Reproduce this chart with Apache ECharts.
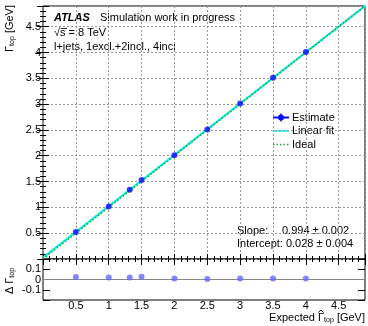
<!DOCTYPE html>
<html><head><meta charset="utf-8">
<script src="https://cdn.jsdelivr.net/npm/echarts@6/dist/echarts.min.js"></script>
<style>html,body{margin:0;padding:0;background:#fff}#c{width:368px;height:326px}</style>
</head><body><div id="c"></div>
<script>
// ---- data ----
const expected = [0.5, 1, 1.32, 1.5, 2, 2.5, 3, 3.5, 4];
const estimate = [0.524, 1.019, 1.339, 1.528, 2.010, 2.506, 3.010, 3.510, 4.010];
const residual = [0.024, 0.019, 0.019, 0.028, 0.010, 0.006, 0.010, 0.010, 0.010];
const fitX = [0, 4.9];
const fitY = [0.028, 4.899];
const idealX = [0, 4.9];
const idealY = [0, 4.9];
const zeroX = [0, 4.9];
const zeroY = [0, 0];
const xTickLabels = ['0.5','1','1.5','2','2.5','3','3.5','4','4.5'];
const yTickLabels = ['0.5','1','1.5','2','2.5','3','3.5','4','4.5'];
const rTickLabels = ['-0.1','0','0.1'];

const F = 'Liberation Sans';
const pairs = (a, b) => a.map((v, i) => [v, b[i]]);
const fmt = (labels) => (v) => {
  const s = String(Math.round(v * 1000) / 1000);
  return labels.includes(s) ? s : '';
};

function ax(grid, pos, min, max, interval, tickLen, extra) {
  return Object.assign({
    type: 'value', gridIndex: grid, position: pos, min: min, max: max, interval: interval,
    axisLine: { show: false },
    axisTick: { show: tickLen > 0, inside: true, length: tickLen, lineStyle: { color: '#000', width: 1 } },
    axisLabel: { show: false },
    splitLine: { show: false },
    minorTick: { show: false }
  }, extra || {});
}
const grid = { color: '#999', type: [2, 2], width: 1 };

const xAxis = [
  ax(0, 'bottom', 0, 4.9, 0.5, 5, { splitLine: { show: true, lineStyle: grid } }),
  ax(0, 'bottom', 0, 4.9, 0.1, 3),
  ax(0, 'top', 0, 4.9, 0.5, 6),
  ax(0, 'top', 0, 4.9, 0.1, 3),
  ax(1, 'bottom', 0, 4.9, 0.5, 0, { axisLabel: { show: true, formatter: fmt(xTickLabels), color: '#000', fontFamily: F, fontSize: 11, margin: 0, showMinLabel: false, showMaxLabel: false } })
];
const yAxis = [
  ax(0, 'left', 0, 4.9, 0.5, 6, { splitLine: { show: true, lineStyle: grid }, axisLabel: { show: true, formatter: fmt(yTickLabels), color: '#000', fontFamily: F, fontSize: 11, margin: 2 } }),
  ax(0, 'left', 0, 4.9, 0.1, 3),
  ax(0, 'right', 0, 4.9, 0.5, 6),
  ax(0, 'right', 0, 4.9, 0.1, 3),
  ax(1, 'left', -0.2, 0.2, 0.1, 7, { axisLabel: { show: true, formatter: fmt(rTickLabels), color: '#000', fontFamily: F, fontSize: 11, margin: 2 } }),
  ax(1, 'right', -0.2, 0.2, 0.1, 7)
];

const sub = { fontSize: 7, fontFamily: F, color: '#000', verticalAlign: 'bottom', padding: [5, 0, 0, 0] };
const main = { fontSize: 11, fontFamily: F, color: '#000' };
function txt(x, y, t, extra) {
  return { type: 'text', x: x, y: y, style: Object.assign({ text: t, fontSize: 11, fontFamily: F, fill: '#000', verticalAlign: 'middle' }, extra || {}) };
}

const option = {
  animation: false,
  backgroundColor: '#fff',
  grid: [
    { left: 43, top: 6, width: 322, height: 253, show: true, borderColor: '#000', borderWidth: 1, backgroundColor: 'transparent' },
    { left: 43, top: 259, width: 322, height: 41, show: true, borderColor: '#000', borderWidth: 1, backgroundColor: 'transparent' }
  ],
  xAxis: xAxis,
  yAxis: yAxis,
  series: [
    { type: 'line', name: 'Linear fit', xAxisIndex: 0, yAxisIndex: 0, data: pairs(fitX, fitY), symbol: 'none',
      lineStyle: { color: '#00eeee', width: 2 }, z: 3 },
    { type: 'line', name: 'Ideal', xAxisIndex: 0, yAxisIndex: 0, data: pairs(idealX, idealY), symbol: 'none',
      lineStyle: { color: '#22aa22', width: 1.5, type: [1.5, 2] }, z: 4 },
    { type: 'scatter', name: 'Estimate', xAxisIndex: 0, yAxisIndex: 0, data: pairs(expected, estimate),
      symbol: 'circle', symbolSize: 6, itemStyle: { color: '#0a0aff' }, z: 5 },
    { type: 'line', name: 'zero', xAxisIndex: 4, yAxisIndex: 4, data: pairs(zeroX, zeroY), symbol: 'none',
      lineStyle: { color: '#888', width: 1 }, z: 3 },
    { type: 'scatter', name: 'Residual', xAxisIndex: 4, yAxisIndex: 4, data: pairs(expected, residual),
      symbol: 'circle', symbolSize: 6, itemStyle: { color: '#6666ff' }, z: 5 }
  ],
  graphic: [
    txt(54, 18, 'ATLAS', { fontStyle: 'italic', fontWeight: 'bold' }),
    txt(100, 18, 'Simulation work in progress'),
    txt(54, 33, '\u221As = 8 TeV'),
    { type: 'line', shape: { x1: 61, y1: 28.5, x2: 67, y2: 28.5 }, style: { stroke: '#000', lineWidth: 0.8 } },
    txt(54, 47, 'l+jets, 1excl.+2incl., 4incl'),
    // legend
    { type: 'line', shape: { x1: 273, y1: 117.5, x2: 289, y2: 117.5 }, style: { stroke: '#0a0aff', lineWidth: 2 } },
    { type: 'line', shape: { x1: 281, y1: 113.5, x2: 281, y2: 121.5 }, style: { stroke: '#0a0aff', lineWidth: 1.5 } },
    { type: 'circle', shape: { cx: 281, cy: 117.5, r: 3 }, style: { fill: '#0a0aff' } },
    txt(292, 118, 'Estimate'),
    { type: 'line', shape: { x1: 273, y1: 131, x2: 289, y2: 131 }, style: { stroke: '#00eeee', lineWidth: 1.5 } },
    txt(292, 131, 'Linear fit'),
    { type: 'line', shape: { x1: 273, y1: 144.5, x2: 289, y2: 144.5 }, style: { stroke: '#22aa22', lineWidth: 1.5, lineDash: [1.5, 2] } },
    txt(292, 145, 'Ideal'),
    // fit results
    txt(237, 231, 'Slope:'),
    txt(282, 231, '0.994 \u00B1 0.002'),
    txt(237, 244, 'Intercept: 0.028 \u00B1 0.004'),
    // axis titles
    { type: 'text', x: 365, y: 318, style: { text: '{m|Expected \u0393}{s|top}{m| [GeV]}', rich: { m: main, s: sub }, align: 'right', verticalAlign: 'middle' } },
    { type: 'polyline', shape: { points: [[318.5, 312.5], [321, 310], [323.5, 312.5]] }, style: { stroke: '#000', lineWidth: 0.9, fill: null } },
    { type: 'text', x: 10, y: 5, rotation: Math.PI / 2, style: { text: '{m|\u0393}{s|top}{m| [GeV]}', rich: { m: main, s: sub }, align: 'right', verticalAlign: 'middle' } },
    { type: 'text', x: 10, y: 281, rotation: Math.PI / 2, style: { text: '{m|\u0394 \u0393}{s|top}', rich: { m: main, s: sub }, align: 'center', verticalAlign: 'middle' } }
  ]
};
const chart = echarts.init(document.getElementById('c'), null, { renderer: 'canvas' });
chart.setOption(option);
</script>
</body></html>
